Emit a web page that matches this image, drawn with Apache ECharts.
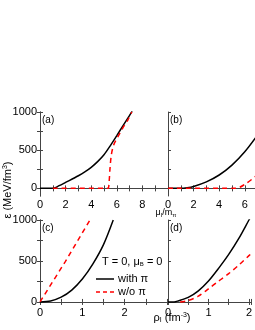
<!DOCTYPE html>
<html><head><meta charset="utf-8">
<script src="https://cdn.jsdelivr.net/npm/echarts@6/dist/echarts.min.js"></script>
<style>html,body{margin:0;padding:0;background:#fff}#c{width:255px;height:330px}</style>
</head><body><div id="c"></div>
<script>
// (a) energy density vs mu_I/m_pi
const aWithX = [0, 1, 1.5, 2, 3, 3.5, 4, 4.5, 5, 5.5, 6, 6.5, 7, 7.2];
const aWithY = [0, 0, 35, 78, 165, 215, 275, 350, 440, 560, 690, 825, 955, 1010];
const aWoX = [1, 5.2, 5.33, 5.4, 5.47, 5.57, 5.75, 6.08, 6.47, 6.86, 7.17];
const aWoY = [0, 0, 0, 87, 261, 435, 565, 674, 791, 895, 1000];
// (b)
const bWithX = [0, 1, 1.5, 2, 3, 4, 5, 6, 7];
const bWithY = [0, 0, 8, 25, 85, 175, 305, 480, 700];
const bWoX = [0, 5.3, 6, 6.8, 7.2];
const bWoY = [0, 0, 52, 152, 210];
// (c) energy density vs rho_I
const cWithX = [0, 0.25, 0.5, 0.75, 1.0, 1.25, 1.5, 1.73];
const cWithY = [0, 12, 58, 145, 280, 465, 700, 1000];
const cWoX = [0, 0.59, 1.18];
const cWoY = [0, 486, 1000];
// (d)
const dWithX = [0, 0.15, 0.25, 0.5, 0.75, 1.0, 1.25, 1.5, 1.75, 2.0, 2.1];
const dWithY = [0, 0, 12, 55, 135, 255, 410, 580, 775, 1000, 1090];
const dWoX = [0.3, 0.5, 0.75, 1.0, 1.25, 1.5, 1.75, 2.0, 2.1];
const dWoY = [0, 18, 70, 160, 255, 345, 450, 565, 610];

const yTicks = [0, 250, 500, 750, 1000];
const yLabels = [0, 500, 1000];
const muLabels = [[0, 2, 4, 6, 8], [0, 2, 4, 6]];
const rhoLabels = [0, 1, 2];
const panelLabels = ['(a)', '(b)', '(c)', '(d)'];

const zip = (xs, ys) => xs.map((x, i) => [x, ys[i]]);
const FONT = 'Liberation Sans, Arial, sans-serif';
const AX = '#444';

const grids = [
  {left: 40, top: 112, width: 128, height: 84},
  {left: 168, top: 112, width: 87, height: 84},
  {left: 40, top: 220, width: 127, height: 84},
  {left: 168, top: 220, width: 87, height: 84}
];
const xCfg = [
  {min: 0, max: 10, interval: 1, labels: muLabels[0], showLeft: true, right: true},
  {min: 0, max: 6.8, interval: 1, labels: muLabels[1], showLeft: false, right: false},
  {min: 0, max: 3, interval: 0.5, labels: rhoLabels, showLeft: true, right: true},
  {min: 0, max: 2.06, interval: 0.5, labels: rhoLabels, showLeft: false, right: false}
];
const yMin = [-100, -100, -25, -25];

const xAxis = [], yAxis = [];
grids.forEach((g, i) => {
  const c = xCfg[i];
  xAxis.push({
    type: 'value', gridIndex: i, position: 'bottom', min: c.min, max: c.max, interval: c.interval,
    axisLine: {lineStyle: {color: AX, width: 1}},
    axisTick: {inside: true, length: 3, lineStyle: {color: AX}},
    splitLine: {show: false},
    axisLabel: {customValues: c.labels, margin: 3, fontSize: 11, color: '#000', fontFamily: FONT,
      formatter: v => String(v)}
  });
  xAxis.push({
    type: 'value', gridIndex: i, position: 'top', min: c.min, max: c.max, interval: c.interval,
    axisLine: {lineStyle: {color: AX, width: 1}},
    axisTick: {inside: true, length: 3, lineStyle: {color: AX}},
    splitLine: {show: false}, axisLabel: {show: false}
  });
  yAxis.push({
    type: 'value', gridIndex: i, position: 'left', min: yMin[i], max: 1000,
    axisLine: {show: true, lineStyle: {color: AX, width: 1}},
    axisTick: {show: true, inside: true, length: 3, customValues: yTicks, lineStyle: {color: AX}},
    splitLine: {show: false},
    axisLabel: {show: c.showLeft, customValues: yLabels, margin: 3, fontSize: 11, color: '#000', fontFamily: FONT,
      formatter: v => String(v)}
  });
  yAxis.push({
    type: 'value', gridIndex: i, position: 'right', min: yMin[i], max: 1000, show: c.right,
    axisLine: {show: true, lineStyle: {color: AX, width: 1}},
    axisTick: {show: true, inside: true, length: 3, customValues: yTicks, lineStyle: {color: AX}},
    splitLine: {show: false}, axisLabel: {show: false}
  });
});

function line(data, gi, dashed, smooth) {
  return {
    type: 'line', xAxisIndex: 2 * gi, yAxisIndex: 2 * gi, data: data,
    showSymbol: false, symbol: 'none', smooth: smooth, clip: true, animation: false,
    lineStyle: dashed ? {color: '#ff0000', width: 1.5, type: [5, 4]} : {color: '#000', width: 1.5}
  };
}
const series = [
  line(zip(aWithX, aWithY), 0, false, 0.3), line(zip(aWoX, aWoY), 0, true, 0.3),
  line(zip(bWithX, bWithY), 1, false, 0.3), line(zip(bWoX, bWoY), 1, true, 0.3),
  line(zip(cWithX, cWithY), 2, false, 0.3), line(zip(cWoX, cWoY), 2, true, false),
  line(zip(dWithX, dWithY), 3, false, 0.3), line(zip(dWoX, dWoY), 3, true, 0.3)
];

const txt = (x, y, s, extra) => ({type: 'text', x: x, y: y, style: Object.assign({text: s, fill: '#000', font: '10px ' + FONT}, extra || {})});
const graphic = [
  txt(42, 115, panelLabels[0]), txt(170, 115, panelLabels[1]),
  txt(42, 223, panelLabels[2]), txt(170, 223, panelLabels[3]),
  {type: 'text', x: 2, y: 190, rotation: Math.PI / 2,
    style: {text: 'ε (MeV/fm{s|3})', fill: '#000', font: '11px ' + FONT, align: 'center', verticalAlign: 'top',
      rich: {s: {fontSize: 7, verticalAlign: 'top', padding: [0, 0, 5, 0]}}}},
  {type: 'text', x: 166, y: 208,
    style: {text: 'μ{sub|I}/m{sub|π}', fill: '#000', font: '9px ' + FONT, align: 'center',
      rich: {sub: {fontSize: 6, padding: [4, 0, 0, 0]}}}},
  {type: 'text', x: 172, y: 312,
    style: {text: 'ρ{sub|I} (fm{sup|-3})', fill: '#000', font: '11px ' + FONT, align: 'center',
      rich: {sub: {fontSize: 7, padding: [5, 0, 0, 0]}, sup: {fontSize: 7, padding: [0, 0, 5, 0]}}}},
  {type: 'text', x: 102, y: 256,
    style: {text: 'T = 0, μ{sub|B} = 0', fill: '#000', font: '11px ' + FONT,
      rich: {sub: {fontSize: 6, padding: [5, 0, 0, 0]}}}},
  {type: 'line', shape: {x1: 96, y1: 279, x2: 114, y2: 279}, style: {stroke: '#000', lineWidth: 1.5}},
  txt(118, 273, 'with π', {font: '11px ' + FONT}),
  {type: 'line', shape: {x1: 96, y1: 292, x2: 114, y2: 292}, style: {stroke: '#ff0000', lineWidth: 1.5, lineDash: [4, 3]}},
  txt(118, 286, 'w/o π', {font: '11px ' + FONT})
];

const chart = echarts.init(document.getElementById('c'), null, {renderer: 'canvas'});
chart.setOption({animation: false, grid: grids, xAxis: xAxis, yAxis: yAxis, series: series, graphic: graphic});
</script></body></html>
